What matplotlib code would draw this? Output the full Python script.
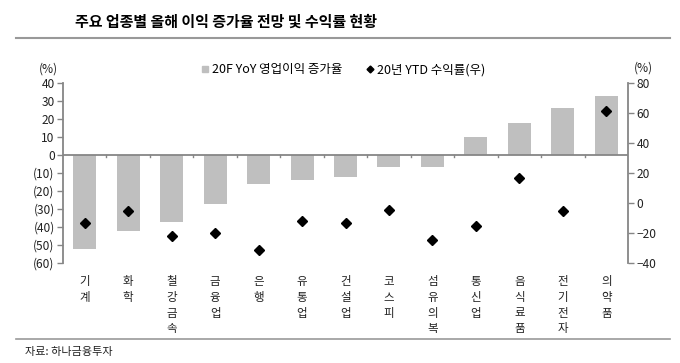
import matplotlib
matplotlib.use("Agg")
import matplotlib.pyplot as plt
from matplotlib.lines import Line2D
import numpy as np

plt.rcParams['font.family'] = ['Noto Sans CJK KR', 'DejaVu Sans']

categories = ['기계', '화학', '철강금속', '금융업', '은행', '유통업', '건설업',
              '코스피', '섬유의복', '통신업', '음식료품', '전기전자', '의약품']
op_growth = [-52, -42, -37, -27, -16, -14, -12, -6.5, -6.5, 10, 18, 26, 33]
ytd_return = [-13, -5.3, -22, -20.3, -31.3, -12.3, -13, -4.5, -24.5, -15, 16.7, -5.3, 61.5]
left_ticks = [40, 30, 20, 10, 0, -10, -20, -30, -40, -50, -60]
right_ticks = [80, 60, 40, 20, 0, -20, -40]

title = '주요 업종별 올해 이익 증가율 전망 및 수익률 현황'
legend_bar = '20F YoY 영업이익 증가율'
legend_dot = '20년 YTD 수익률(우)'
source = '자료: 하나금융투자'

W, H = 680, 363
fig = plt.figure(figsize=(W / 100, H / 100), dpi=100)
ax = fig.add_axes([63 / W, 1 - 263 / H, (628 - 63) / W, (263 - 83) / H])
ax2 = ax.twinx()

x = np.arange(len(categories))
gray_spine = '#868686'
txt = '#222222'
fs = 8.6
ax.bar(x, op_growth, width=0.53, color='#BFBFBF', zorder=2)
ax.axhline(0, color=gray_spine, lw=1.3, zorder=3)
# small boundary ticks on the zero line
for b in np.arange(len(categories) - 1) + 0.5:
    ax.plot([b, b], [0, -1.0], color=gray_spine, lw=1, zorder=3)

ax.set_xlim(-0.5, len(categories) - 0.5)
ax.set_ylim(-60, 40)
ax.set_yticks(left_ticks)
ax.set_yticklabels([f'({abs(v)})' if v < 0 else f'{v}' for v in left_ticks])
ax2.plot(x, ytd_return, linestyle='none', marker='D', markersize=5.0,
         color='black', zorder=4)
ax2.set_ylim(-40, 80)
ax2.set_yticks(right_ticks)
ax2.set_yticklabels([f'\u2212{abs(v)}' if v < 0 else f'{v}' for v in right_ticks])

ax.set_xticks(x)
ax.set_xticklabels(['\n'.join(c) for c in categories])
for lab in ax.get_xticklabels():
    lab.set_linespacing(1.25)
ax.tick_params(axis='x', length=0, pad=9, labelsize=8.3, colors=txt)
ax.tick_params(axis='y', length=4, width=1, color=gray_spine, labelsize=fs,
               labelcolor=txt, pad=2)
ax2.tick_params(axis='y', length=4, width=1, color=gray_spine, labelsize=fs,
                labelcolor=txt, pad=2)

for a in (ax, ax2):
    a.spines['top'].set_visible(False)
    a.spines['bottom'].set_visible(False)
    a.spines['left'].set_color(gray_spine)
    a.spines['right'].set_color(gray_spine)
    a.spines['left'].set_linewidth(1.3)
    a.spines['right'].set_linewidth(1.3)
ax2.spines['left'].set_visible(False)
ax.spines['right'].set_visible(False)
ax.set_zorder(ax2.get_zorder() - 1)
ax2.patch.set_visible(False)

fig.text(39 / W, 1 - 69 / H, '(%)', fontsize=fs, color=txt, ha='left', va='center')
fig.text(634 / W, 1 - 68 / H, '(%)', fontsize=fs, color=txt, ha='left', va='center')

handles = [Line2D([], [], linestyle='none', marker='s', markersize=5, color='#BFBFBF')]
fig.legend(handles, [legend_bar], loc='center left',
           bbox_to_anchor=(201 / W, 1 - 70 / H), frameon=False, fontsize=9,
           handlelength=0.6, handletextpad=0.25, borderpad=0, borderaxespad=0)
handles2 = [Line2D([], [], linestyle='none', marker='D', markersize=3.5, color='black')]
fig.legend(handles2, [legend_dot], loc='center left',
           bbox_to_anchor=(366 / W, 1 - 70 / H), frameon=False, fontsize=9,
           handlelength=0.6, handletextpad=0.3, borderpad=0, borderaxespad=0)

fig.text(75 / W, 1 - 22 / H, title, fontsize=10.8, fontweight='bold', ha='left', va='center')
fig.add_artist(Line2D([16 / W, 670 / W], [1 - 38 / H] * 2, color='#999999', lw=1.5))
fig.add_artist(Line2D([16 / W, 670 / W], [1 - 339 / H] * 2, color='#999999', lw=1.2))
fig.text(25 / W, 1 - 352 / H, source, fontsize=8, color=txt, ha='left', va='center')

fig.savefig('out.png', dpi=100)
